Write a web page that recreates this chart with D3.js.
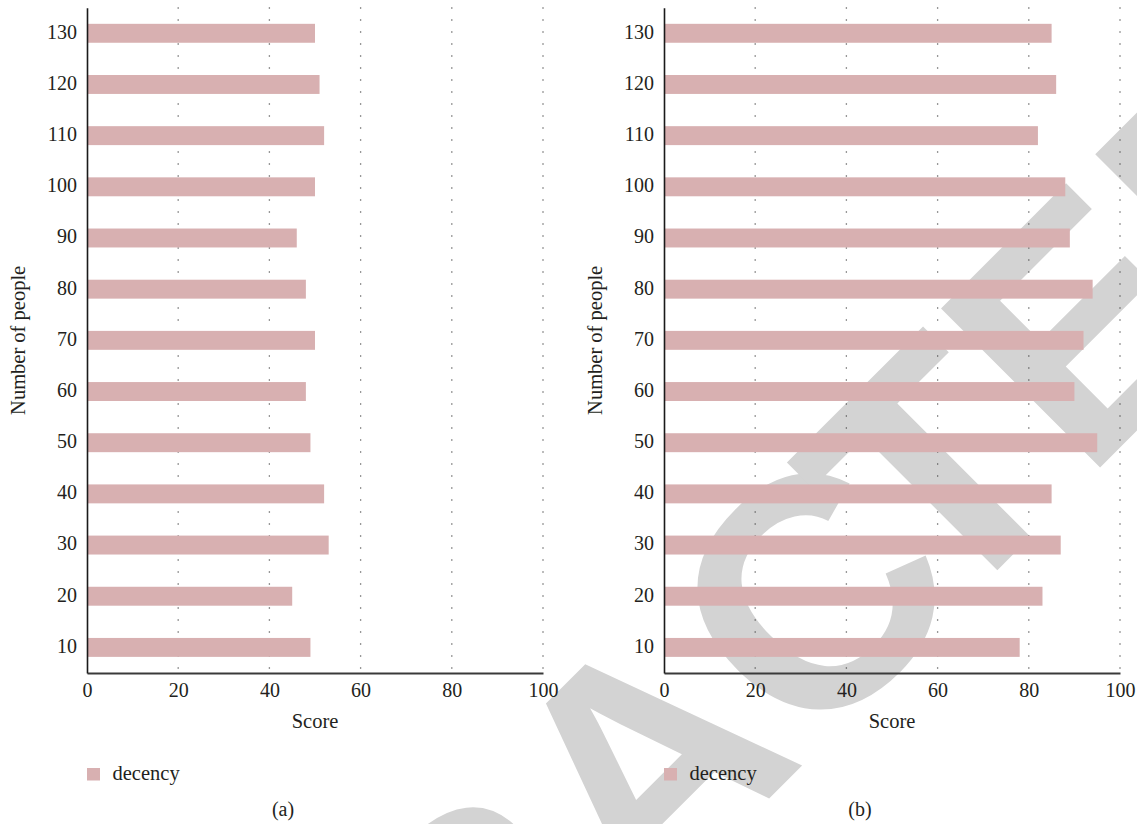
<!DOCTYPE html>
<html>
<head>
<meta charset="utf-8">
<script src="https://cdn.jsdelivr.net/npm/d3@7"></script>
<style>
  html, body { margin: 0; padding: 0; background: #fff; }
  svg { display: block; }
</style>
</head>
<body>
<svg id="chart" width="1137" height="824"></svg>
<script>
// Group sizes (number of people) and the decency score of each group
const people = [10, 20, 30, 40, 50, 60, 70, 80, 90, 100, 110, 120, 130];
const decencyA = [49, 45, 53, 52, 49, 48, 50, 48, 46, 50, 52, 51, 50];
const decencyB = [78, 83, 87, 85, 95, 90, 92, 94, 89, 88, 82, 86, 85];
const scoreTicks = [0, 20, 40, 60, 80, 100];
const seriesName = "decency";
const captions = ["(a)", "(b)"];

const svg = d3.select("#chart");
const serif = "'Liberation Serif', 'Times New Roman', serif";
const ink = "#231f20";
const barColor = "#d8b0b1";

// Diagonal stamp behind the panels
const stamp = svg.append("text")
  .attr("transform", "translate(11.8,1555.8) rotate(-45)")
  .attr("text-anchor", "start")
  .attr("font-family", "'Liberation Sans', Arial, sans-serif")
  .attr("font-weight", "bold")
  .attr("font-size", 327)
  .attr("fill", "#d3d3d3");
stamp.append("tspan").text("RETRAC");
stamp.append("tspan").attr("dx", -45).text("TED");

function panel(values, left, right, caption) {
  const top = 7.7, bottom = 673;
  const g = svg.append("g");

  const x = d3.scaleLinear().domain([0, 100]).range([left, right]);
  const y = d3.scaleBand()
    .domain(people.slice().reverse())
    .range([top, bottom])
    .paddingInner(0.63)
    .paddingOuter(0.315);

  // dotted vertical grid
  g.selectAll("line.grid")
    .data(scoreTicks.filter(d => d > 0))
    .join("line")
    .attr("class", "grid")
    .attr("x1", d => x(d)).attr("x2", d => x(d))
    .attr("y1", top - 0.2).attr("y2", bottom)
    .attr("stroke", "#333")
    .attr("stroke-width", 1.3)
    .attr("stroke-dasharray", "1.1,10.9");

  // bars
  g.selectAll("rect.bar")
    .data(people.map((p, i) => ({ p, v: values[i] })))
    .join("rect")
    .attr("class", "bar")
    .attr("x", x(0))
    .attr("y", d => y(d.p))
    .attr("width", d => x(d.v) - x(0))
    .attr("height", y.bandwidth())
    .attr("fill", barColor);

  // x axis
  const xAxis = g.append("g")
    .attr("transform", `translate(0,${bottom})`)
    .call(d3.axisBottom(x).tickValues(scoreTicks).tickSize(0).tickPadding(9.5));
  xAxis.select(".domain").attr("stroke", "#3a3a3a").attr("stroke-width", 2);
  xAxis.selectAll("text")
    .attr("font-family", serif).attr("font-size", 20).attr("fill", ink);

  // y axis
  const yAxis = g.append("g")
    .attr("transform", `translate(${left},0)`)
    .call(d3.axisLeft(y).tickSize(0).tickPadding(10));
  yAxis.select(".domain").attr("stroke", "#1a1a1a").attr("stroke-width", 1.6);
  yAxis.selectAll("text")
    .attr("font-family", serif).attr("font-size", 20).attr("fill", ink)
    .attr("dy", "0.27em");

  // axis titles
  g.append("text")
    .attr("x", (left + right) / 2).attr("y", 728)
    .attr("text-anchor", "middle")
    .attr("font-family", serif).attr("font-size", 20.5).attr("fill", ink)
    .text("Score");

  g.append("text")
    .attr("transform", `translate(${left - 62},${(top + bottom) / 2}) rotate(-90)`)
    .attr("text-anchor", "middle")
    .attr("font-family", serif).attr("font-size", 20.5).attr("fill", ink)
    .text("Number of people");

  // legend
  g.append("rect")
    .attr("x", left).attr("y", 768)
    .attr("width", 13).attr("height", 12.5)
    .attr("fill", barColor);
  g.append("text")
    .attr("x", left + 25.5).attr("y", 780)
    .attr("font-family", serif).attr("font-size", 20.5).attr("fill", ink)
    .text(seriesName);

  // sub-figure caption
  g.append("text")
    .attr("x", (left + right) / 2 - 32).attr("y", 816)
    .attr("text-anchor", "middle")
    .attr("font-family", serif).attr("font-size", 20).attr("fill", ink)
    .text(caption);
}

panel(decencyA, 87, 543, captions[0]);
panel(decencyB, 664, 1120, captions[1]);
</script>
</body>
</html>
